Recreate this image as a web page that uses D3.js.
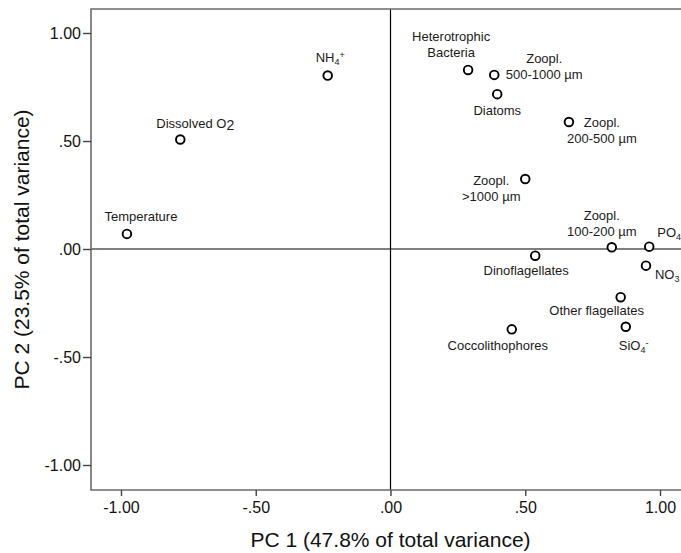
<!DOCTYPE html>
<html>
<head>
<meta charset="utf-8">
<script src="https://cdn.jsdelivr.net/npm/d3@7"></script>
<style>
  html, body { margin: 0; padding: 0; background: #fff; }
  svg { display: block; font-family: "Liberation Sans", Arial, sans-serif; }
</style>
</head>
<body>
<svg id="chart" width="681" height="553"></svg>
<script>
// ---- data ----
const names = ["Temperature", "Dissolved O2", "NH4+", "Heterotrophic Bacteria",
  "Zoopl. 500-1000 µm", "Diatoms", "Zoopl. 200-500 µm", "Zoopl. >1000 µm",
  "Zoopl. 100-200 µm", "PO4", "NO3", "Dinoflagellates", "Other flagellates",
  "SiO4-", "Coccolithophores"];
const pc1 = [-0.978, -0.780, -0.233, 0.288, 0.385, 0.396, 0.662, 0.500,
  0.821, 0.960, 0.948, 0.537, 0.854, 0.873, 0.450];
const pc2 = [0.070, 0.507, 0.803, 0.829, 0.806, 0.717, 0.588, 0.324,
  0.008, 0.011, -0.077, -0.031, -0.223, -0.360, -0.372];
const tickValues = [-1, -0.5, 0, 0.5, 1];
const xTitle = "PC 1 (47.8% of total variance)";
const yTitle = "PC 2 (23.5% of total variance)";

// label text lines: segments [text, kind]
const labelLines = [
  [[["Temperature", "n"]]],
  [[["Dissolved O", "n"], ["2", "low"]]],
  [[["NH", "n"], ["4", "sub"], ["+", "sup"]]],
  [[["Heterotrophic", "n"]], [["Bacteria", "n"]]],
  [[["Zoopl.", "n"]], [["500-1000 µm", "n"]]],
  [[["Diatoms", "n"]]],
  [[["Zoopl.", "n"]], [["200-500 µm", "n"]]],
  [[["Zoopl.", "n"]], [[">1000 µm", "n"]]],
  [[["Zoopl.", "n"]], [["100-200 µm", "n"]]],
  [[["PO", "n"], ["4", "sub"]]],
  [[["NO", "n"], ["3", "sub"]]],
  [[["Dinoflagellates", "n"]]],
  [[["Other flagellates", "n"]]],
  [[["SiO", "n"], ["4", "sub"], ["-", "sup"]]],
  [[["Coccolithophores", "n"]]]
];
// label layout: offset of first baseline from the point, anchor
const labelLayout = [
  {dx: 14, dy: -13, anchor: "middle"},
  {dx: 15, dy: -11, anchor: "middle"},
  {dx: -12, dy: -14, anchor: "start"},
  {dx: -17, dy: -29, anchor: "middle"},
  {dx: 50, dy: -12, anchor: "middle"},
  {dx: 0, dy: 21, anchor: "middle"},
  {dx: 33, dy: 5, anchor: "middle"},
  {dx: -34, dy: 6, anchor: "middle"},
  {dx: -10, dy: -27, anchor: "middle"},
  {dx: 8, dy: -10, anchor: "start"},
  {dx: 9, dy: 13, anchor: "start"},
  {dx: -9, dy: 19, anchor: "middle"},
  {dx: -24, dy: 18, anchor: "middle"},
  {dx: -7, dy: 23, anchor: "start"},
  {dx: -14, dy: 21, anchor: "middle"}
];

// ---- chart ----
const svg = d3.select("#chart");
const L = 91, R = 681, T = 9, B = 490;
const x = d3.scaleLinear().domain([-1.1113, 1.0779]).range([L, R]);
const y = d3.scaleLinear().domain([-1.1157, 1.1111]).range([B, T]);
const fmt = d => d3.format(".2f")(d).replace("\u2212", "-").replace(/^(-?)0\./, "$1.");

const frameColor = "#6b6b6b";

// zero lines
svg.append("line").attr("x1", x(0)).attr("x2", x(0)).attr("y1", T).attr("y2", B)
  .attr("stroke", "#000").attr("stroke-width", 1.2);
svg.append("line").attr("x1", L).attr("x2", R).attr("y1", y(0)).attr("y2", y(0))
  .attr("stroke", "#000").attr("stroke-width", 1.2);

// frame (right edge lies outside the picture)
svg.append("path")
  .attr("d", `M${R + 5},${T}H${L}V${B}H${R + 5}`)
  .attr("fill", "none").attr("stroke", frameColor).attr("stroke-width", 1.6);

// axes
const xAxis = svg.append("g").attr("transform", `translate(0,${B})`)
  .call(d3.axisBottom(x).tickValues(tickValues).tickFormat(fmt).tickSizeOuter(0).tickSize(6).tickPadding(6));
const yAxis = svg.append("g").attr("transform", `translate(${L},0)`)
  .call(d3.axisLeft(y).tickValues(tickValues).tickFormat(fmt).tickSizeOuter(0).tickSize(8).tickPadding(2));
[xAxis, yAxis].forEach(g => {
  g.select(".domain").remove();
  g.selectAll(".tick line").attr("stroke", "#444").attr("stroke-width", 1.4);
  g.selectAll(".tick text").attr("fill", "#111")
    .style("font-size", "16px").style("font-family", '"Liberation Sans", Arial, sans-serif');
});
yAxis.selectAll(".tick text").attr("dy", "0.36em");

// axis titles
svg.append("text").attr("x", x(0)).attr("y", 547).attr("text-anchor", "middle")
  .attr("fill", "#111").style("font-size", "21px").text(xTitle);
svg.append("text").attr("transform", `translate(29,${(T + B) / 2}) rotate(-90)`)
  .attr("text-anchor", "middle").attr("fill", "#111").style("font-size", "21px").text(yTitle);

// points
const pts = names.map((n, i) => ({name: n, v1: pc1[i], v2: pc2[i], lines: labelLines[i], lay: labelLayout[i]}));
svg.append("g").selectAll("circle").data(pts).join("circle")
  .attr("cx", d => x(d.v1)).attr("cy", d => y(d.v2)).attr("r", 4.3)
  .attr("fill", "#fff").attr("stroke", "#000").attr("stroke-width", 1.9);

// labels
const lg = svg.append("g").style("font-size", "13px").attr("fill", "#1a1a1a");
pts.forEach(d => {
  d.lines.forEach((segs, li) => {
    const t = lg.append("text")
      .attr("x", x(d.v1) + d.lay.dx)
      .attr("y", y(d.v2) + d.lay.dy + li * 16)
      .attr("text-anchor", d.lay.anchor);
    segs.forEach(([s, kind]) => {
      const ts = t.append("tspan").text(s);
      if (kind === "sub") ts.attr("dy", 3).style("font-size", "9px");
      if (kind === "low") ts.attr("dy", 2).style("font-size", "14px");
      if (kind === "sup") ts.attr("dy", -7).style("font-size", "9px");
    });
  });
});
</script>
</body>
</html>
